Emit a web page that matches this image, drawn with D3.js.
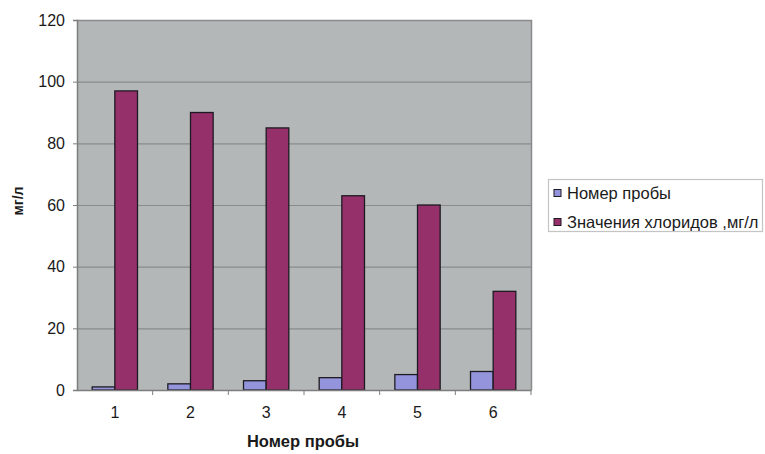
<!DOCTYPE html>
<html>
<head>
<meta charset="utf-8">
<script src="https://cdn.jsdelivr.net/npm/d3@7"></script>
<style>
  html, body { margin: 0; padding: 0; background: #fff; }
  svg { display: block; font-family: "Liberation Sans", Arial, sans-serif; }
</style>
</head>
<body>
<svg id="chart" width="765" height="454"></svg>
<script>
// Chloride content per sample
const categories = ["1", "2", "3", "4", "5", "6"];
const seriesNames = ["Номер пробы", "Значения хлоридов ,мг/л"];
const sampleNumbers = [1, 2, 3, 4, 5, 6];
const chlorideValues = [97, 90, 85, 63, 60, 32];
const yTicks = [0, 20, 40, 60, 80, 100, 120];
const xTitle = "Номер пробы";
const yTitle = "мг/л";

const seriesColors = ["#9494dc", "#96306a"];
const seriesValues = [sampleNumbers, chlorideValues];

const svg = d3.select("#chart");
const plot = { left: 77, top: 20, right: 531, bottom: 390 };

const x0 = d3.scaleBand().domain(categories).range([plot.left, plot.right]).padding(0);
const x1 = d3.scaleBand().domain(d3.range(seriesNames.length))
  .range([0, x0.bandwidth()]).paddingInner(0).paddingOuter(0.67);
const y = d3.scaleLinear().domain([0, 120]).range([plot.bottom, plot.top]);

// plot area
svg.append("rect")
  .attr("x", plot.left).attr("y", plot.top)
  .attr("width", plot.right - plot.left).attr("height", plot.bottom - plot.top)
  .attr("fill", "#b3b7b7");

// horizontal gridlines
svg.append("g")
  .selectAll("line")
  .data(yTicks.filter(t => t > 0))
  .join("line")
  .attr("x1", plot.left).attr("x2", plot.right)
  .attr("y1", d => y(d) + 0.5).attr("y2", d => y(d) + 0.5)
  .attr("stroke", "#888c8c").attr("stroke-width", 1.2);

// plot frame (top/right) in grey
svg.append("path")
  .attr("d", `M${plot.left},${plot.top + 0.5}H${plot.right + 0.5}V${plot.bottom}`)
  .attr("fill", "none").attr("stroke", "#8a8a8a").attr("stroke-width", 1.5);

// bars
const groups = svg.append("g")
  .selectAll("g")
  .data(categories)
  .join("g")
  .attr("transform", d => `translate(${x0(d)},0)`);

groups.selectAll("rect")
  .data((c, i) => seriesValues.map((vals, s) => ({ s, v: vals[i] })))
  .join("rect")
  .attr("x", d => x1(d.s))
  .attr("y", d => y(d.v))
  .attr("width", x1.bandwidth())
  .attr("height", d => y(0) - y(d.v))
  .attr("fill", d => seriesColors[d.s])
  .attr("stroke", "#1e1a22").attr("stroke-width", 1.3);

// y axis
const yAxis = svg.append("g")
  .attr("transform", `translate(${plot.left},0)`)
  .call(d3.axisLeft(y).tickValues(yTicks).tickSize(4).tickPadding(8));
yAxis.select(".domain").attr("stroke", "#7d7d7d").attr("stroke-width", 1.5);
yAxis.selectAll(".tick line").attr("stroke", "#7d7d7d");
yAxis.selectAll("text").attr("font-size", 16).attr("fill", "#1a1a1a")
  .attr("font-family", "'Liberation Sans', Arial, sans-serif");

// x axis with ticks between categories
const xAxis = svg.append("g")
  .attr("transform", `translate(0,${plot.bottom})`)
  .call(d3.axisBottom(x0).tickSize(0).tickPadding(17));
xAxis.select(".domain").attr("stroke", "#7d7d7d").attr("stroke-width", 1.5);
xAxis.selectAll("text").attr("font-size", 16).attr("fill", "#1a1a1a")
  .attr("font-family", "'Liberation Sans', Arial, sans-serif");
xAxis.append("g")
  .selectAll("line")
  .data(categories.slice(1).concat([null]))
  .join("line")
  .attr("x1", d => d === null ? plot.right : x0(d))
  .attr("x2", d => d === null ? plot.right : x0(d))
  .attr("y1", 0).attr("y2", 5)
  .attr("stroke", "#7d7d7d");

// axis titles
svg.append("text")
  .attr("x", (plot.left + plot.right) / 2 - 1).attr("y", 447)
  .attr("text-anchor", "middle")
  .attr("font-size", 16.5).attr("font-weight", "bold").attr("fill", "#1a1a1a")
  .text(xTitle);

svg.append("text")
  .attr("transform", `translate(23,${(plot.top + plot.bottom) / 2 - 4}) rotate(-90)`)
  .attr("text-anchor", "middle")
  .attr("font-size", 14).attr("font-weight", "bold").attr("fill", "#1a1a1a")
  .text(yTitle);

// legend
const legend = svg.append("g");
legend.append("rect")
  .attr("x", 548.5).attr("y", 179.5).attr("width", 214).attr("height", 52)
  .attr("fill", "#fff").attr("stroke", "#c4c4c4").attr("stroke-width", 1.2);

const items = legend.selectAll("g.item")
  .data(seriesNames)
  .join("g")
  .attr("class", "item")
  .attr("transform", (d, i) => `translate(554,${193 + i * 29})`);
items.append("rect")
  .attr("x", 0).attr("y", -3.5).attr("width", 7).attr("height", 7)
  .attr("fill", (d, i) => seriesColors[i])
  .attr("stroke", "#1e1a22").attr("stroke-width", 1);
items.append("text")
  .attr("x", 13).attr("y", 6)
  .attr("font-size", 16.5).attr("fill", "#1a1a1a")
  .text(d => d);
</script>
</body>
</html>
